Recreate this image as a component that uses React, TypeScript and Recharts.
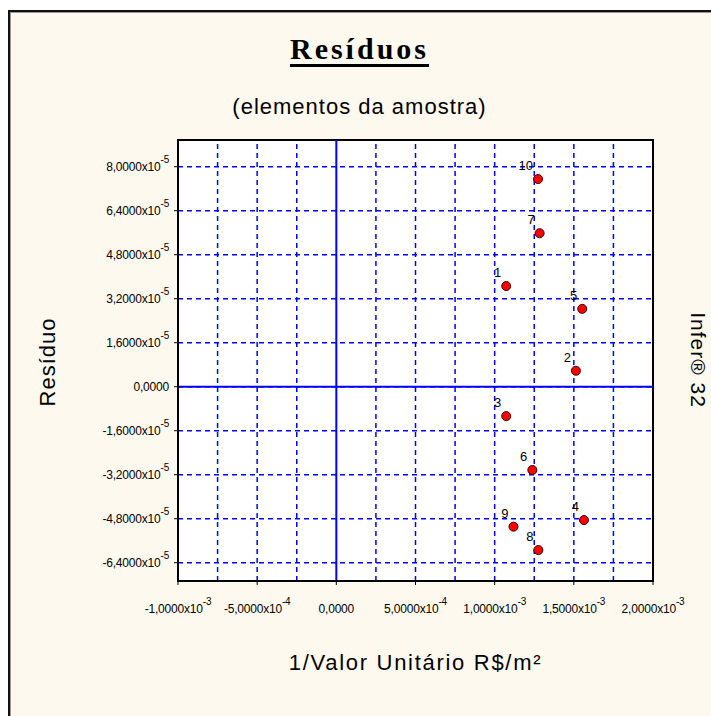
import { ScatterChart, Scatter, XAxis, YAxis, CartesianGrid, ReferenceLine, ReferenceArea } from 'recharts'

// elementos da amostra (1..10)
const sampleIds = [1, 2, 3, 4, 5, 6, 7, 8, 9, 10]
const invUnitValue = [1.073e-3, 1.513e-3, 1.073e-3, 1.564e-3, 1.553e-3, 1.238e-3, 1.284e-3, 1.276e-3, 1.119e-3, 1.274e-3]
const residuals = [3.66e-5, 5.8e-6, -1.07e-5, -4.85e-5, 2.83e-5, -3.03e-5, 5.58e-5, -5.94e-5, -5.09e-5, 7.55e-5]

const xTicks = [-1e-3, -5e-4, 0, 5e-4, 1e-3, 1.5e-3, 2e-3]
const xGridLines = [-7.5e-4, -5e-4, -2.5e-4, 2.5e-4, 5e-4, 7.5e-4, 1e-3, 1.25e-3, 1.5e-3, 1.75e-3]
const yTicks = [-6.4e-5, -4.8e-5, -3.2e-5, -1.6e-5, 0, 1.6e-5, 3.2e-5, 4.8e-5, 6.4e-5, 8e-5]

const xDomain = [-1e-3, 2e-3]
const yDomain = [-7.065e-5, 8.97e-5]

const data = sampleIds.map((id, i) => ({ id, x: invUnitValue[i], y: residuals[i] }))

const BLUE = '#0000FF'
const SANS = '"Liberation Sans", Arial, sans-serif'

function sci(v: number) {
  if (v === 0) return { m: '0,0000', e: '' }
  const e = Math.floor(Math.log10(Math.abs(v)) + 1e-9)
  const m = v / Math.pow(10, e)
  return { m: m.toFixed(4).replace('.', ','), e: String(e) }
}

const YTick = ({ x, y, payload }: any) => {
  const { m, e } = sci(payload.value)
  return (
    <text x={x - 3} y={y + 4.5} textAnchor="end" fontSize={12} fontFamily={SANS} fill="#000" letterSpacing={-0.2}>
      {m}
      {e && (
        <>
          x10
          <tspan dy={-8} fontSize={10}>{e}</tspan>
        </>
      )}
    </text>
  )
}

const XTick = ({ x, y, payload }: any) => {
  const { m, e } = sci(payload.value)
  return (
    <text x={x} y={y + 26} textAnchor="middle" fontSize={12} fontFamily={SANS} fill="#000" letterSpacing={-0.2}>
      {m}
      {e && (
        <>
          x10
          <tspan dy={-8} fontSize={10}>{e}</tspan>
        </>
      )}
    </text>
  )
}

const PointMark = (props: any) => {
  const { cx, cy, payload } = props
  return (
    <g>
      <circle cx={cx} cy={cy} r={4.5} fill="#FF0000" stroke="#300" strokeWidth={1} />
      <text x={cx - 5} y={cy - 9} textAnchor="end" fontSize={13} fontFamily={SANS} fill="#000">
        {payload.id}
      </text>
    </g>
  )
}

export default function App() {
  return (
    <div style={{ position: 'absolute', left: 0, top: 0, width: 711, height: 716, overflow: 'hidden', background: '#fff' }}>
      <div
        style={{
          position: 'absolute',
          left: 8,
          top: 10,
          width: 760,
          height: 760,
          border: '2px solid #111',
          boxShadow: 'inset 1px 1px 0 #999',
          background: '#FEF9EE',
        }}
      />
      <div
        style={{
          position: 'absolute',
          left: 0,
          width: 719,
          top: 33,
          textAlign: 'center',
          fontFamily: '"Liberation Serif", "Times New Roman", serif',
          fontWeight: 'bold',
          fontSize: 30,
          letterSpacing: 3,
          textDecoration: 'underline',
          textDecorationThickness: 3,
          textUnderlineOffset: 5,
          lineHeight: '32px',
        }}
      >
        Resíduos
      </div>
      <div
        style={{
          position: 'absolute',
          left: 0,
          width: 719,
          top: 94,
          textAlign: 'center',
          fontFamily: SANS,
          fontSize: 22,
          letterSpacing: 1,
          lineHeight: '26px',
        }}
      >
        (elementos da amostra)
      </div>
      <div style={{ position: 'absolute', left: 0, top: 0 }}>
        <ScatterChart width={711} height={716} margin={{ top: 140, right: 58, bottom: 85, left: 58 }}>
          <CartesianGrid
            vertical={false}
            horizontal
            stroke={BLUE}
            strokeWidth={1.5}
            strokeDasharray="5 4"
            fill="#FFFFFF"
            fillOpacity={1}
          />
          {xGridLines.map((v) => (
            <ReferenceLine key={v} x={v} stroke={BLUE} strokeWidth={1.5} strokeDasharray="5 4" />
          ))}
          <ReferenceLine x={0} stroke={BLUE} strokeWidth={2} />
          <ReferenceLine y={0} stroke={BLUE} strokeWidth={2} />
          <XAxis
            type="number"
            dataKey="x"
            domain={xDomain}
            ticks={xTicks}
            allowDataOverflow
            height={50}
            tickSize={4}
            axisLine={{ stroke: '#000', strokeWidth: 2 }}
            tickLine={{ stroke: '#000' }}
            tick={<XTick />}
            interval={0}
            label={{
              value: '1/Valor Unitário R$/m²',
              position: 'insideBottom',
              offset: -39,
              style: { fontFamily: SANS, fontSize: 22, letterSpacing: 1.7, fill: '#000' },
            }}
          />
          <YAxis
            type="number"
            dataKey="y"
            domain={yDomain}
            ticks={yTicks}
            allowDataOverflow
            width={120}
            tickSize={4}
            axisLine={{ stroke: '#000', strokeWidth: 2 }}
            tickLine={{ stroke: '#000' }}
            tick={<YTick />}
            interval={0}
          />
          <ReferenceArea
            x1={xDomain[0]}
            x2={xDomain[1]}
            y1={yDomain[0]}
            y2={yDomain[1]}
            fill="none"
            stroke="#000"
            strokeWidth={2}
            ifOverflow="visible"
          />
          <Scatter data={data} shape={<PointMark />} isAnimationActive={false} />
        </ScatterChart>
      </div>
      <div
        style={{
          position: 'absolute',
          left: 48,
          top: 362,
          transform: 'translate(-50%, -50%) rotate(-90deg)',
          fontFamily: SANS,
          fontSize: 22,
          letterSpacing: 1,
          whiteSpace: 'nowrap',
        }}
      >
        Resíduo
      </div>
      <div
        style={{
          position: 'absolute',
          left: 698,
          top: 360,
          transform: 'translate(-50%, -50%) rotate(90deg)',
          fontFamily: SANS,
          fontSize: 21,
          letterSpacing: 1,
          whiteSpace: 'nowrap',
        }}
      >
        Infer® 32
      </div>
    </div>
  )
}
